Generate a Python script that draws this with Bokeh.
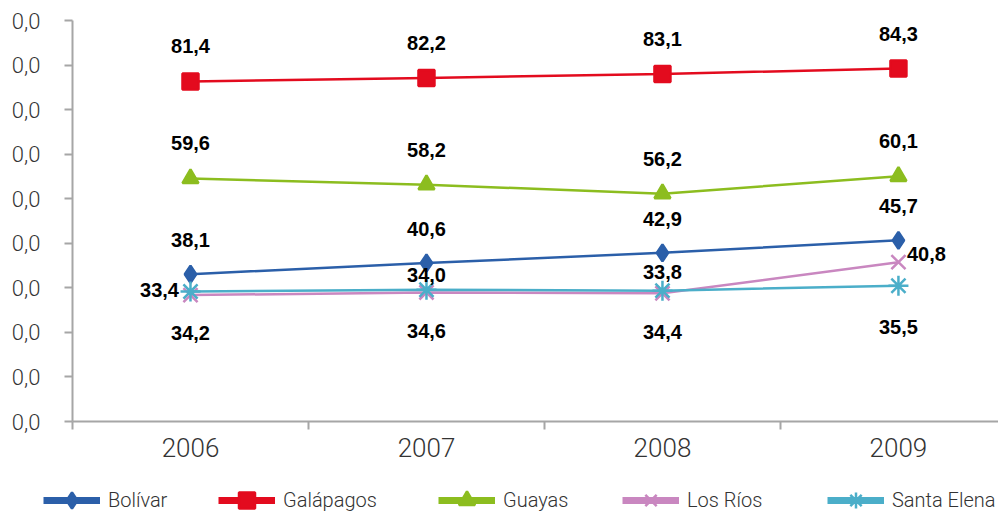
from bokeh.plotting import figure
from bokeh.layouts import column
from bokeh.models import ColumnDataSource, FixedTicker, Legend, LegendItem, Range1d
from bokeh.core.properties import value
from bokeh.embed import file_html
from bokeh.resources import INLINE

# ---- data ----
years = ["2006", "2007", "2008", "2009"]
bolivar = [38.1, 40.6, 42.9, 45.7]
galapagos = [81.4, 82.2, 83.1, 84.3]
guayas = [59.6, 58.2, 56.2, 60.1]
los_rios = [33.4, 34.0, 33.8, 40.8]
santa_elena = [34.2, 34.6, 34.4, 35.5]
series_names = ["Bolívar", "Galápagos", "Guayas", "Los Ríos", "Santa Elena"]
y_tick_label = "0,0"

# ---- styles / layout ----
Y_MIN, Y_MAX = 5.0, 95.1
N_Y_TICKS = 10
AXIS_COLOR = "#a6a6a6"
LIGHT_FONT = "Roboto Light"
BOLD_FONT = "Liberation Sans"

styles = {
    "Bolívar": dict(color="#2b5fa9", marker="diamond", size=17),
    "Galápagos": dict(color="#e30b1e", marker="square", size=16),
    "Guayas": dict(color="#8cbd1f", marker="triangle", size=16),
    "Los Ríos": dict(color="#c987c0", marker="x", size=20),
    "Santa Elena": dict(color="#4baec9", marker="asterisk", size=20),
}
label_dx = {
    "Bolívar": [0, 0, 0, 0],
    "Galápagos": [0, 0, 0, 0],
    "Guayas": [0, 0, 0, 0],
    "Los Ríos": [-31, 0, 0, 28],
    "Santa Elena": [0, 0, 0, 0],
}
label_dy = {
    "Bolívar": [-34, -34, -34, -34],
    "Galápagos": [-35, -35, -35, -35],
    "Guayas": [-35, -35, -35, -35],
    "Los Ríos": [-5, -17, -21, -8],
    "Santa Elena": [41, 41, 41, 41],
}
legend_x = [43, 218, 438, 622, 827]   # page x of each legend item's left edge
LEGEND_H = 42                         # height of the legend strip (px)
legend_y = -8

values = {
    "Bolívar": bolivar,
    "Galápagos": galapagos,
    "Guayas": guayas,
    "Los Ríos": los_rios,
    "Santa Elena": santa_elena,
}

xs = [i + 0.5 for i in range(len(years))]

p = figure(width=998, height=512 - LEGEND_H, output_backend="svg",
           toolbar_location=None,
           x_range=Range1d(0, 3.924), y_range=Range1d(Y_MIN, Y_MAX),
           min_border_left=72, min_border_right=0, min_border_top=20,
           min_border_bottom=49)
p.frame_align = False
p.outline_line_color = None
p.grid.visible = False
p.background_fill_color = "white"
p.border_fill_color = "white"

# x axis
xa = p.xaxis[0]
xa.ticker = FixedTicker(ticks=xs, minor_ticks=list(range(len(years))))
xa.major_label_overrides = {x: y for x, y in zip(xs, years)}
xa.axis_line_color = AXIS_COLOR
xa.axis_line_width = 2
xa.major_tick_line_color = None
xa.major_tick_out = 0
xa.major_tick_in = 0
xa.minor_tick_line_color = AXIS_COLOR
xa.minor_tick_line_width = 2
xa.minor_tick_out = 8
xa.minor_tick_in = 0
xa.major_label_standoff = 8
xa.major_label_text_font = LIGHT_FONT
xa.major_label_text_font_size = "26px"
xa.major_label_text_color = "#333333"

# y axis
step = (Y_MAX - Y_MIN) / (N_Y_TICKS - 1)
yticks = [round(Y_MIN + k * step, 3) for k in range(N_Y_TICKS)]
ya = p.yaxis[0]
ya.ticker = FixedTicker(ticks=yticks, minor_ticks=[])
ya.major_label_overrides = {t: y_tick_label for t in yticks}
ya.axis_line_color = AXIS_COLOR
ya.axis_line_width = 2
ya.major_tick_line_color = AXIS_COLOR
ya.major_tick_line_width = 2
ya.major_tick_out = 8
ya.major_tick_in = 0
ya.minor_tick_line_color = None
ya.major_label_standoff = 24
ya.major_label_text_font = LIGHT_FONT
ya.major_label_text_font_size = "22px"
ya.major_label_text_color = "#333333"

for name in series_names:
    st = styles[name]
    src = ColumnDataSource(dict(x=xs, y=values[name]))
    p.line("x", "y", source=src, line_color=st["color"], line_width=2.5)
    p.scatter("x", "y", source=src, marker=st["marker"], size=st["size"],
              fill_color=st["color"], line_color=st["color"], line_width=2.5)

for name in series_names:
    lsrc = ColumnDataSource(dict(
        x=xs, y=values[name],
        t=[f"{v:.1f}".replace(".", ",") for v in values[name]],
        dx=label_dx[name], dy=label_dy[name]))
    p.text("x", "y", text="t", source=lsrc, x_offset="dx", y_offset="dy",
           text_font=value(BOLD_FONT), text_font_style="bold",
           text_font_size="20px", text_align="center",
           text_baseline="middle", text_color="black")

# ---- legend strip ----
lf = figure(width=998, height=LEGEND_H, output_backend="svg",
            toolbar_location=None, x_axis_type=None, y_axis_type=None,
            x_range=Range1d(0, 1), y_range=Range1d(0, 1),
            min_border=0, min_border_left=0, min_border_right=0,
            min_border_top=0, min_border_bottom=0)
lf.frame_align = False
lf.outline_line_color = None
lf.background_fill_color = "white"
lf.border_fill_color = "white"

for name, lx in zip(series_names, legend_x):
    st = styles[name]
    off = ColumnDataSource(dict(x=[-10, -11], y=[-10, -10]))  # off-screen
    lr = lf.line("x", "y", source=off, line_color=st["color"], line_width=7)
    mr = lf.scatter("x", "y", source=off, marker=st["marker"], size=st["size"],
                    fill_color=st["color"], line_color=st["color"], line_width=2.5)
    leg = Legend(items=[LegendItem(label=name, renderers=[lr, mr])],
                 location=(lx, legend_y), orientation="horizontal",
                 glyph_width=57, glyph_height=40, label_standoff=8,
                 padding=0, margin=0, border_line_color=None,
                 background_fill_alpha=0,
                 label_text_font=LIGHT_FONT, label_text_font_size="20px",
                 label_text_color="#333333")
    lf.add_layout(leg)

layout = column(p, lf, spacing=0)
open("out.html", "w").write(file_html(layout, INLINE))
